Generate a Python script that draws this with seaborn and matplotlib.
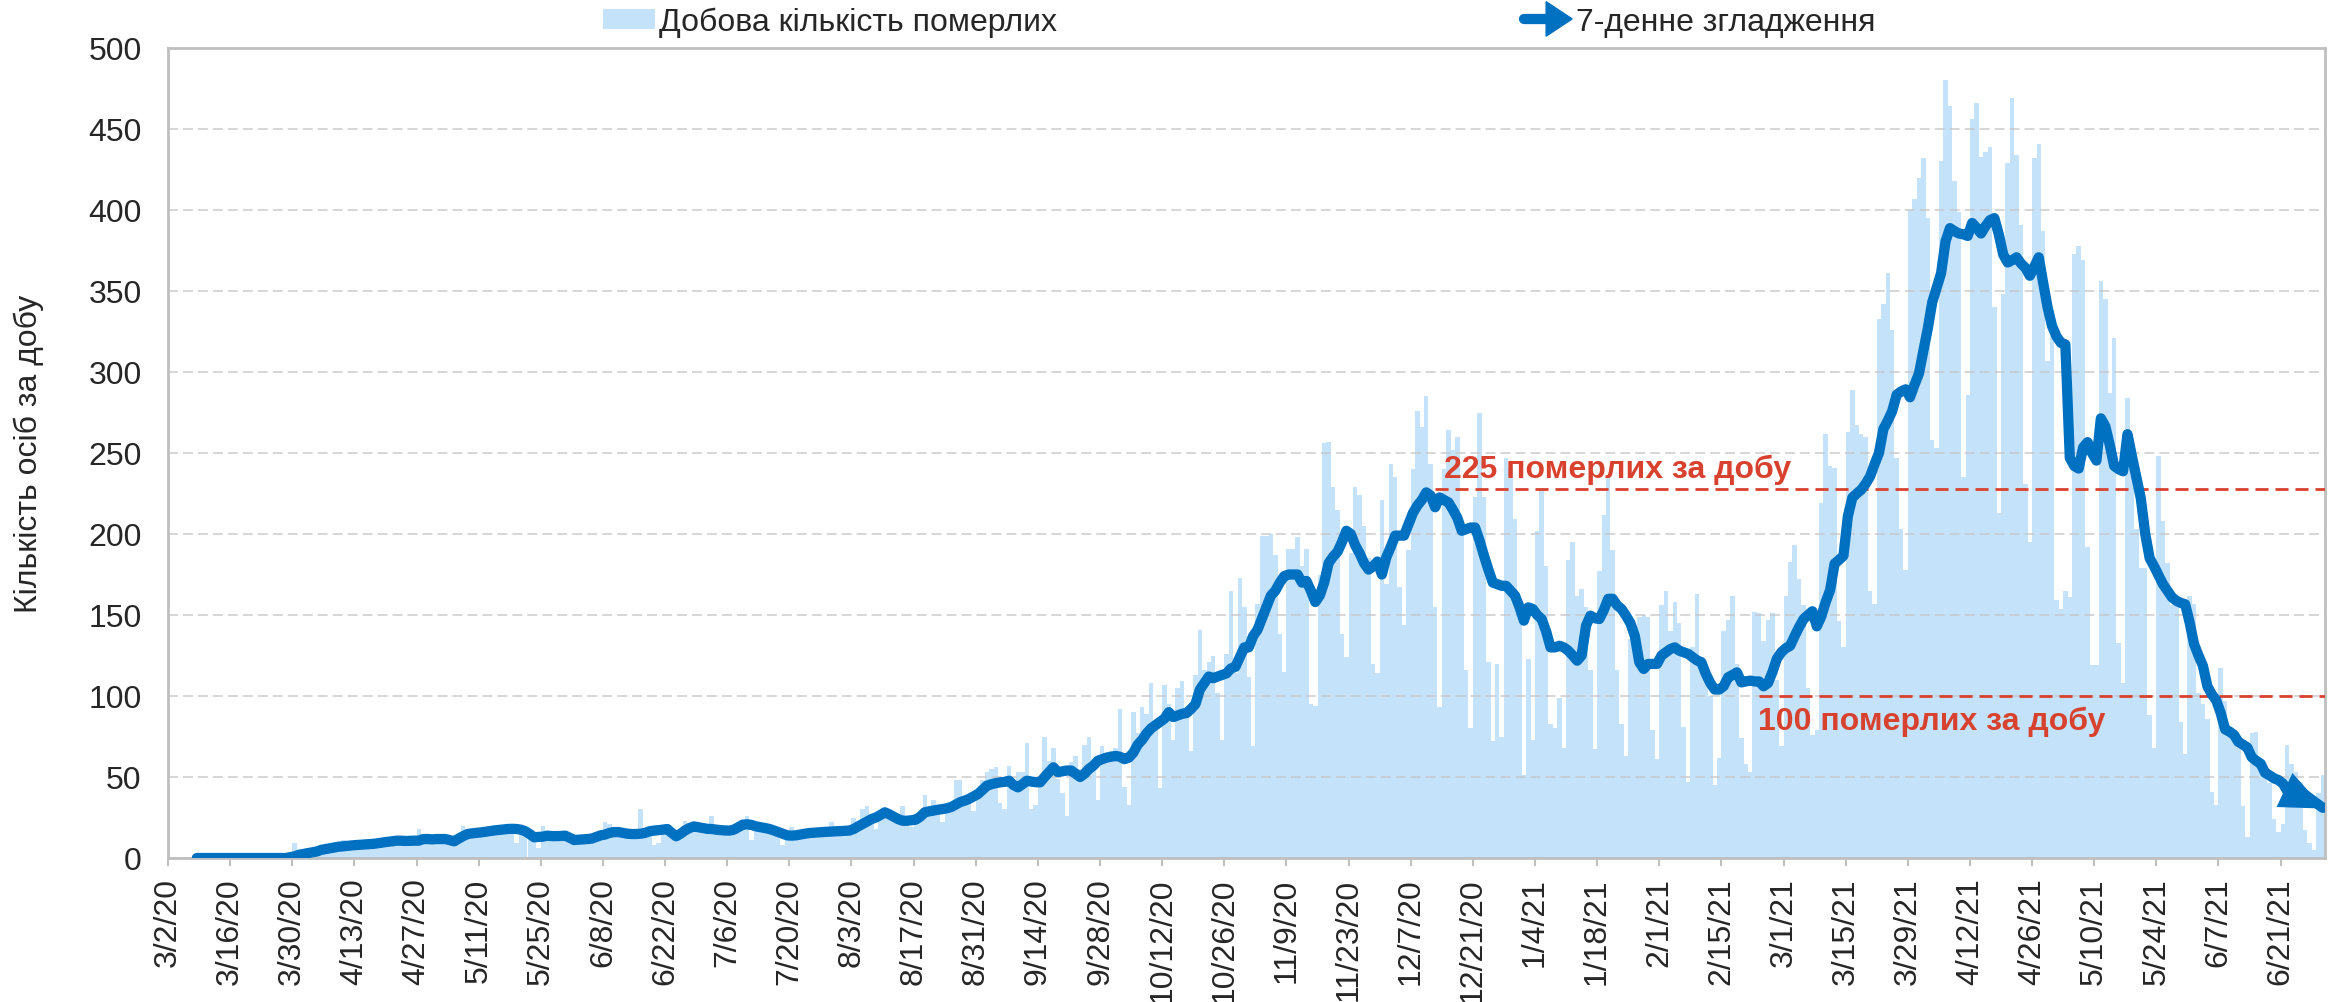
import numpy as np
import pandas as pd
import matplotlib
matplotlib.use("Agg")
import matplotlib.pyplot as plt
import seaborn as sns
from matplotlib.patches import Patch, Polygon
from matplotlib.lines import Line2D
from matplotlib.legend_handler import HandlerBase

sns.set_style("white")
plt.rcParams["font.family"] = ["Liberation Sans", "DejaVu Sans"]

# === DATA (daily, from 3/2/20 to 6/30/21, one row = one week starting Monday) ===
start_date = "2020-03-02"

deaths = [
    0, 0, 0, 0, 0, 0, 0,            # 3/2/20
    0, 0, 0, 0, 1, 0, 1,
    0, 1, 0, 0, 1, 0, 1,
    1, 2, 1, 2, 1, 3, 2,
    9, 2, 3, 5, 4, 5, 6,            # 3/30
    5, 7, 6, 8, 11, 7, 8,
    8, 9, 8, 7, 10, 9, 10,
    10, 11, 9, 12, 10, 11, 10,
    18, 10, 11, 12, 11, 13, 10,     # 4/27
    11, 8, 10, 20, 17, 15, 16,
    16, 17, 18, 16, 19, 17, 18,
    18, 9, 17, 18, 14, 12, 6,
    20, 13, 14, 13, 12, 14, 13,     # 5/25
    11, 12, 12, 11, 13, 12, 14,
    22, 21, 15, 16, 17, 15, 14,
    16, 30, 18, 15, 8, 9, 17,
    17, 18, 12, 14, 23, 18, 20,     # 6/22
    19, 17, 20, 26, 18, 16, 15,
    17, 18, 20, 21, 26, 11, 22,
    20, 19, 18, 17, 16, 8, 12,
    19, 14, 15, 16, 15, 13, 16,     # 7/20
    17, 16, 22, 17, 15, 16, 18,
    25, 21, 30, 32, 26, 18, 27,
    30, 28, 23, 22, 32, 22, 19,
    24, 27, 39, 26, 36, 31, 22,     # 8/17
    30, 34, 48, 48, 36, 38, 29,
    42, 48, 53, 55, 56, 34, 30,
    57, 45, 53, 53, 71, 30, 33,
    50, 75, 60, 68, 49, 40, 26,     # 9/14
    59, 63, 55, 70, 75, 58, 36,
    69, 65, 66, 68, 92, 44, 33,
    90, 77, 93, 89, 108, 80, 43,
    107, 95, 73, 105, 109, 90, 66,  # 10/12
    113, 141, 116, 121, 125, 102, 73,
    126, 165, 114, 173, 155, 112, 69,
    157, 199, 199, 200, 187, 138, 115,
    191, 191, 198, 180, 191, 95, 94,   # 11/9
    175, 256, 257, 229, 215, 138, 124,
    188, 229, 224, 205, 185, 120, 114,
    221, 169, 243, 235, 167, 144, 190,
    240, 276, 266, 285, 243, 155, 93,  # 12/7
    240, 264, 252, 260, 207, 116, 80,
    223, 275, 223, 121, 72, 120, 75,
    247, 241, 209, 150, 51, 123, 73,
    202, 228, 180, 83, 80, 99, 68,     # 1/4/21
    184, 195, 162, 166, 155, 116, 67,
    177, 212, 235, 190, 116, 83, 63,
    135, 140, 149, 150, 149, 79, 61,
    156, 165, 140, 158, 145, 81, 47,   # 2/1
    130, 163, 124, 120, 100, 45, 62,
    140, 147, 162, 120, 74, 58, 53,
    152, 151, 134, 147, 151, 110, 69,
    162, 183, 193, 172, 156, 105, 76,  # 3/1
    79, 219, 262, 242, 241, 146, 130,
    263, 289, 267, 262, 260, 165, 157,
    333, 342, 361, 326, 247, 203, 178,
    400, 407, 420, 432, 395, 258, 253,  # 3/29
    430, 480, 464, 418, 399, 235, 286,
    456, 466, 433, 436, 439, 340, 213,
    348, 429, 469, 434, 391, 231, 195,
    432, 441, 387, 307, 338, 159, 154,  # 4/26
    165, 161, 373, 378, 369, 192, 119,
    119, 356, 345, 287, 321, 133, 108,
    284, 250, 203, 179, 179, 88, 68,
    248, 208, 182, 156, 157, 84, 64,    # 5/24
    162, 157, 102, 95, 86, 41, 33,
    117, 97, 79, 72, 68, 32, 13,
    77, 78, 56, 51, 46, 24, 16,
    21, 70, 58, 53, 47, 17, 9,          # 6/21
    5, 40, 51,
]

# 7-day smoothing, starts on 3/8/20
smooth_start_day = 6
smooth = [
    0,                                              # 3/8/20
    0, 0, 0, 0, 0, 0, 0,
    0, 0, 0, 0, 0, 0, 0,
    0, 0, 0, 0, 0, 0, 0.5,
    1, 2, 2.5, 3, 3.5, 4, 5,                        # 3/30
    5.5, 6, 6.5, 7, 7.2, 7.5, 7.8,
    8, 8.2, 8.4, 8.6, 8.8, 9.2, 9.6,
    10, 10.3, 10.7, 10.7, 10.5, 10.6, 10.7,
    10.7, 11.7, 11.7, 11.5, 11.7, 11.7, 11.7,       # 4/27
    11, 10.3, 12, 13.5, 14.8, 15.2, 15.5,
    15.8, 16.2, 16.6, 17, 17.3, 17.6, 17.9,
    18, 17.9, 17.5, 16.5, 14.8, 12.8, 13,
    13.2, 13.8, 13.5, 13.5, 13.6, 13.8, 12.5,       # 5/25
    11.1, 11.3, 11.5, 11.7, 12, 13, 14,
    14.5, 15.5, 16, 16, 15.5, 15, 14.8,
    14.8, 15, 15.5, 16.5, 16.9, 17.2, 17.5,
    17.9, 15.5, 13.4, 15, 17, 18.5, 19.5,           # 6/22
    19, 18.5, 18, 17.9, 17.5, 17.2, 17,
    16.9, 17.5, 19, 20.6, 20.8, 20.4, 19.5,
    19, 18.5, 17.9, 17, 16, 15, 14,
    13.8, 14, 14.5, 15, 15.4, 15.6, 15.8,           # 7/20
    16, 16.2, 16.3, 16.5, 16.6, 16.8, 16.9,
    17.9, 19.5, 21, 22.5, 24, 25, 26.5,
    28.2, 27, 25.5, 24, 23, 23, 23.3,
    23.7, 25.5, 28.2, 28.8, 29.3, 29.8, 30.2,       # 8/17
    30.7, 31.5, 33, 34.5, 35.4, 36.5, 38,
    39.5, 42, 44.6, 45.5, 46.2, 46.7, 47,
    47.7, 45, 43.6, 45.5, 47.7, 47.2, 46.8,
    46.7, 50, 53, 56, 53, 53.5, 54,                 # 9/14
    54, 52, 50, 52, 55, 57, 60,
    61, 62, 62.5, 63, 62.5, 61, 62,
    65, 70, 73, 77, 80, 82, 84,
    86, 90, 87, 88, 89, 89.5, 92,                   # 10/12
    95, 104, 108, 112, 111, 112, 113,
    114, 117, 118, 124, 130, 130, 137,
    141, 148, 155, 162, 165, 170, 174,
    175, 175, 175, 170, 171, 165, 158,              # 11/9
    162, 170, 182, 186, 189, 195, 202,
    200, 193, 188, 182, 178, 180, 183,
    175, 185.6, 192, 199, 199, 199, 206,
    213, 217.6, 221, 225.7, 223.7, 216.5, 222.6,    # 12/7
    221, 219.5, 215, 210, 202, 203, 204,
    204, 196, 186.7, 178, 170, 169, 168,
    168, 165, 162, 155, 146.5, 154.7, 153.7,
    150, 147.5, 140, 130, 130, 131, 130,            # 1/4/21
    128, 125, 121.8, 125, 143.4, 149.6, 148,
    147.5, 153, 160, 160, 156, 153.7, 149.6,
    145, 137, 120.8, 116.7, 119.8, 119.8, 119.8,
    125, 127, 129, 130, 128, 127, 126,              # 2/1
    124, 122, 120.8, 113.6, 108, 104, 104,
    106, 111.5, 113, 114.6, 108.4, 109, 109.5,
    109, 109, 106, 108, 114.8, 123, 127,
    129.5, 131, 137, 142.5, 147.4, 150, 152.3,      # 3/1
    143, 149, 158, 165.4, 181.7, 184, 186.6,
    211, 222.4, 225, 227.3, 231, 235.5, 243,
    250, 264.8, 270, 276, 286, 288, 289.3,
    284.4, 292, 299, 313, 326.8, 343, 352,          # 3/29
    361, 380.6, 388.8, 387, 385.5, 385, 384,
    392, 389, 385.5, 390, 393.7, 395, 385,
    372.5, 367.6, 369, 370.8, 367, 364.3, 359.4,
    365, 370.8, 355, 339.8, 328.4, 322, 318,        # 4/26
    317, 247, 242, 240.4, 253.4, 256.7, 250,
    245.3, 271.4, 266.5, 255, 242, 240, 238.7,
    261.6, 248, 235, 222, 200, 185, 180,
    174.5, 169, 165, 161, 158.8, 157.5, 156.6,      # 5/24
    145.4, 132, 125, 118.6, 106, 101, 97.3,
    89.5, 79.4, 78, 76, 71.6, 70, 68.2,
    62.2, 60, 58.2, 52.6, 51, 49.2, 48.1,
    46, 41.4, 40.3, 40.5, 41.4, 39, 37,             # 6/21
    35, 33, 31,
]

tick_labels = [
    "3/2/20", "3/16/20", "3/30/20", "4/13/20", "4/27/20", "5/11/20", "5/25/20",
    "6/8/20", "6/22/20", "7/6/20", "7/20/20", "8/3/20", "8/17/20", "8/31/20",
    "9/14/20", "9/28/20", "10/12/20", "10/26/20", "11/9/20", "11/23/20",
    "12/7/20", "12/21/20", "1/4/21", "1/18/21", "2/1/21", "2/15/21", "3/1/21",
    "3/15/21", "3/29/21", "4/12/21", "4/26/21", "5/10/21", "5/24/21",
    "6/7/21", "6/21/21",
]

legend_labels = ["Добова кількість померлих", "7-денне згладження"]
ref_levels = [228, 100]           # dashed reference lines
ref_start_days = [285.5, 358.5]
ref_texts = ["225 померлих за добу", "100 померлих за добу"]
ref_text_pos = [(287.4, 240), (358.2, 84.5)]

# === STYLE ===
bar_color = "#C4E3FB"
line_color = "#0070C0"
red = "#D9412F"
grid_color = "#C6C6C6"
frame_color = "#BFBFBF"
fs = 23

df_bars = pd.DataFrame({"day": np.arange(len(deaths)) + 0.5, "deaths": deaths})
df_line = pd.DataFrame({
    "day": np.arange(smooth_start_day, smooth_start_day + len(smooth)) + 0.5,
    "smooth": smooth,
})

fig = plt.figure(figsize=(23.33, 10.03), dpi=100)
ax = fig.add_axes([168 / 2333, 1 - 859 / 1003, (2325 - 168) / 2333, (859 - 49) / 1003])

sns.barplot(data=df_bars, x="day", y="deaths", native_scale=True, width=1.0,
            color=bar_color, saturation=1, linewidth=0, errorbar=None, ax=ax)
sns.lineplot(data=df_line, x="day", y="smooth", color=line_color, lw=7.4,
             solid_capstyle="round", solid_joinstyle="round", ax=ax, zorder=4)

# arrow head at the end of the smoothed line
ax.annotate("", xy=(485.8, smooth[-1] - 0.5), xytext=(478.0, 40.5),
            arrowprops=dict(arrowstyle="-|>,head_length=1.05,head_width=0.45",
                            mutation_scale=30, color=line_color, lw=0,
                            shrinkA=0, shrinkB=0), zorder=5)

# reference lines + labels
n_days = len(deaths)
for lvl, x0, txt, (tx, ty) in zip(ref_levels, ref_start_days, ref_texts, ref_text_pos):
    ax.plot([x0, n_days], [lvl, lvl], color=red, lw=2.0,
            linestyle=(0, (4.7, 2.5)), zorder=3)
    ax.text(tx, ty, txt, color=red, fontsize=fs, fontweight="bold",
            ha="left", va="center", zorder=6)

# axes
ax.set_xlim(0, n_days)
ax.set_ylim(0, 500)
ax.set_yticks(np.arange(0, 501, 50))
ax.set_xticks(np.arange(0, 14 * len(tick_labels), 14))
ax.set_xticklabels(tick_labels, rotation=90, ha="center", va="top")
ax.tick_params(axis="x", length=6, width=1.5, color=frame_color, pad=8, labelsize=fs,
               bottom=True)
ax.tick_params(axis="y", length=0, pad=19, labelsize=fs)
ax.set_xlabel("")
ax.set_ylabel("Кількість осіб за добу", fontsize=fs)
ax.yaxis.set_label_coords((44 - 168) / 2157, 0.5)

ax.set_axisbelow("line")
ax.grid(axis="y", color=grid_color, lw=1.1, linestyle=(0, (6.5, 3.3)), alpha=0.9)
ax.grid(axis="x", visible=False)
for sp in ax.spines.values():
    sp.set_visible(True)
    sp.set_color(frame_color)
    sp.set_linewidth(2.0)


class ArrowLegend(HandlerBase):
    def create_artists(self, legend, orig_handle, xdescent, ydescent,
                       width, height, fontsize, trans):
        yc = height / 2 - ydescent
        x0 = -xdescent
        shaft = Line2D([x0 + 3, x0 + 0.55 * width], [yc, yc], color=line_color,
                       lw=7.4, solid_capstyle="round", transform=trans)
        head = Polygon([[x0 + 0.5 * width, yc - 0.85 * height],
                        [x0 + 0.5 * width, yc + 0.85 * height],
                        [x0 + width, yc]], closed=True, color=line_color,
                       transform=trans)
        return [shaft, head]


bar_handle = Patch(facecolor=bar_color, edgecolor="none")
line_handle = Line2D([], [], color=line_color)
fig.legend([bar_handle, line_handle], legend_labels, loc="center left",
           bbox_to_anchor=(603 / 2333, 1 - 23 / 1003), ncol=2, frameon=False,
           fontsize=fs, borderpad=0, borderaxespad=0, handlelength=1.63,
           handleheight=0.6, handletextpad=0.12, columnspacing=14.5,
           handler_map={line_handle: ArrowLegend()})

fig.savefig("out.png", dpi=100)
